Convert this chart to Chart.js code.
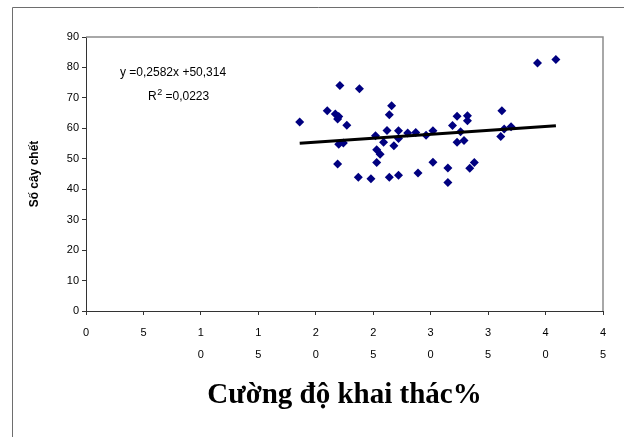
<!DOCTYPE html>
<html>
<head>
<meta charset="utf-8">
<script src="https://cdn.jsdelivr.net/npm/chart.js@4.4.1/dist/chart.umd.min.js"></script>
<style>
  html, body { margin: 0; padding: 0; background: #fff; }
  canvas { display: block; }
</style>
</head>
<body>
<canvas id="chart" width="624" height="437"></canvas>
<script>
// Cường độ khai thác (%) — giá trị
const xValues = [18.6, 21.0, 21.7, 22.0, 21.9, 22.1, 23.8, 22.7, 22.0, 22.4,
  21.9, 26.6, 26.4, 25.2, 26.2, 25.9, 26.8, 27.2, 27.2, 25.3,
  25.6, 25.3, 23.7, 24.8, 26.4, 27.2, 28.9, 28.0, 28.7, 29.6,
  30.2, 30.2, 31.5, 31.5, 31.9, 32.3, 32.6, 33.2, 33.2, 32.3,
  32.9, 33.4, 33.8, 36.2, 36.1, 36.4, 37.0, 39.3, 40.9];
// Số cây chết
const yValues = [62.1, 65.8, 64.7, 63.9, 63.1, 74.1, 73.0, 61.0, 54.8, 55.2,
  48.3, 67.4, 64.5, 57.6, 59.3, 55.4, 54.3, 59.2, 56.7, 53.0,
  51.5, 48.8, 43.9, 43.4, 43.9, 44.6, 45.3, 58.5, 58.6, 57.7,
  59.2, 48.9, 47.0, 42.2, 60.9, 64.0, 58.9, 64.1, 62.5, 55.4,
  56.0, 46.9, 48.8, 65.8, 57.3, 59.8, 60.5, 81.5, 82.6];

// đường xu hướng (Excel): y = 0,2582x + 50,314
const trendSlope = 0.2582;
const trendIntercept = 50.314;

const xTickValues = [0, 5, 10, 15, 20, 25, 30, 35, 40, 45];
const yTickValues = [0, 10, 20, 30, 40, 50, 60, 70, 80, 90];

const eqLabel = 'y =0,2582x +50,314';
const r2Value = ' =0,0223';
const xTitle = 'Cường độ khai thác%';
const yTitle = 'Số cây chết';

const points = xValues.map((x, i) => ({ x: x, y: yValues[i] }));
const xMin = Math.min(...xValues);
const xMax = Math.max(...xValues);
const trendPoints = [xMin, xMax].map(x => ({ x: x, y: trendSlope * x + trendIntercept }));

const tickFont = { family: '"Liberation Sans", Arial, sans-serif', size: 11, lineHeight: 2 };

// khung ngoài, viền vùng vẽ, phương trình
const framePlugin = {
  id: 'frame',
  beforeDraw(chart) {
    const c = chart.ctx;
    c.save();
    c.strokeStyle = '#6e6e6e';
    c.lineWidth = 1;
    c.beginPath();
    c.moveTo(12.5, 437);
    c.lineTo(12.5, 7.5);
    c.lineTo(624, 7.5);
    c.stroke();
    c.restore();
  },
  afterDraw(chart) {
    const c = chart.ctx;
    const a = chart.chartArea;
    c.save();
    c.strokeStyle = '#8c8c8c';
    c.lineWidth = 1.5;
    c.beginPath();
    c.moveTo(a.left, a.top);
    c.lineTo(a.right, a.top);
    c.lineTo(a.right, a.bottom);
    c.stroke();

    c.fillStyle = '#000';
    c.textBaseline = 'middle';
    c.textAlign = 'left';
    c.font = '12px "Liberation Sans", Arial, sans-serif';
    c.fillText(eqLabel, a.left + 34, a.top + 36);
    let x = a.left + 62;
    const y = a.top + 60;
    c.fillText('R', x, y);
    x += c.measureText('R').width + 0.5;
    c.font = '9px "Liberation Sans", Arial, sans-serif';
    c.fillText('2', x, y - 4);
    x += c.measureText('2').width;
    c.font = '12px "Liberation Sans", Arial, sans-serif';
    c.fillText(r2Value, x, y);
    c.restore();
  }
};

new Chart(document.getElementById('chart'), {
  type: 'scatter',
  data: {
    datasets: [
      {
        data: points,
        pointStyle: 'rectRot',
        pointRadius: 4.5,
        pointHoverRadius: 4.5,
        backgroundColor: '#000080',
        borderColor: '#000080',
        borderWidth: 0,
        order: 2
      },
      {
        type: 'line',
        data: trendPoints,
        borderColor: '#000000',
        borderWidth: 3,
        pointRadius: 0,
        fill: false,
        order: 1
      }
    ]
  },
  options: {
    responsive: false,
    animation: false,
    layout: { padding: { left: 0, top: 37, right: 21, bottom: 0 } },
    plugins: {
      legend: { display: false },
      tooltip: { enabled: false }
    },
    scales: {
      x: {
        type: 'linear',
        position: 'bottom',
        min: 0,
        max: 45,
        afterBuildTicks: s => { s.ticks = xTickValues.map(v => ({ value: v })); },
        afterFit: s => { s.height = 126; },
        ticks: {
          color: '#000',
          font: tickFont,
          padding: 7,
          maxRotation: 0,
          autoSkip: false,
          callback: v => (v < 10 ? String(v) : String(v).split(''))
        },
        grid: { drawOnChartArea: false, tickLength: 4, color: '#333' },
        border: { color: '#333', width: 1 },
        title: {
          display: true,
          text: xTitle,
          color: '#000',
          font: { family: '"Liberation Serif", "Times New Roman", serif', size: 29, weight: 'bold' },
          padding: { top: 0, bottom: 24 }
        }
      },
      y: {
        min: 0,
        max: 90,
        afterBuildTicks: s => { s.ticks = yTickValues.map(v => ({ value: v })); },
        afterFit: s => { s.width = 86; },
        ticks: {
          color: '#000',
          font: { family: '"Liberation Sans", Arial, sans-serif', size: 11 },
          padding: 3
        },
        grid: { drawOnChartArea: false, tickLength: 4, color: '#333' },
        border: { color: '#333', width: 1 },
        title: {
          display: true,
          text: yTitle,
          color: '#000',
          font: { family: '"Liberation Sans", Arial, sans-serif', size: 12, weight: 'bold' },
          padding: { top: 27, bottom: 0 }
        }
      }
    }
  },
  plugins: [framePlugin]
});
</script>
</body>
</html>
